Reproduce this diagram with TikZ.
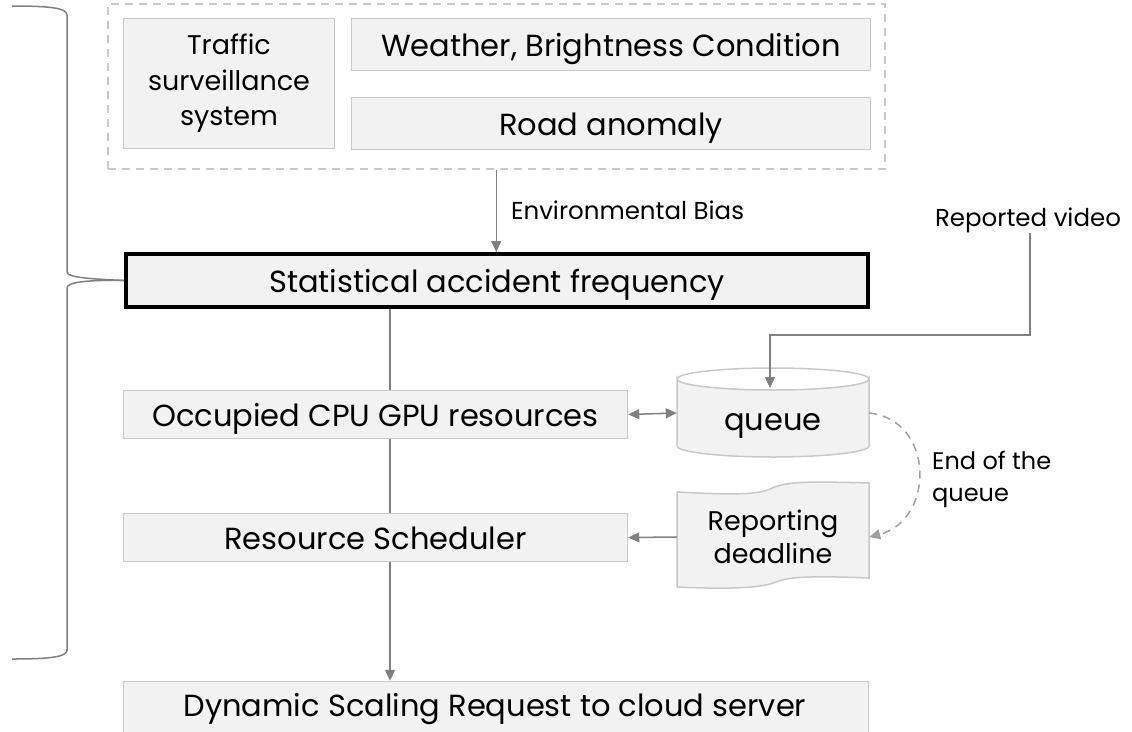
\documentclass[tikz,border=0pt]{standalone}
\usepackage{fontspec}
\setmainfont{Poppins}
\usetikzlibrary{arrows.meta,calc}
\definecolor{boxfill}{HTML}{F2F2F2}
\definecolor{boxline}{HTML}{C8C8C8}
\definecolor{arr}{HTML}{808080}
\definecolor{dashc}{HTML}{A0A0A0}
\newcommand{\bigf}{\fontsize{30.5}{36}\selectfont}
\newcommand{\midf}{\fontsize{27}{35.5}\selectfont}
\newcommand{\tapef}{\fontsize{27}{32.5}\selectfont}
\newcommand{\smf}{\fontsize{24.5}{32}\selectfont}
\begin{document}
\begin{tikzpicture}[x=1pt,y=-1pt,
  box/.style={draw=boxline,fill=boxfill,line width=1.5pt,inner sep=0pt,anchor=north west,font=\bigf},
  one/.style={text height=24pt,text depth=0pt},
  conn/.style={draw=arr,line width=1.5pt},
  tip/.style={-{Triangle[length=11pt,width=10pt]}},
  lbl/.style={inner sep=0pt,font=\smf,align=left}
]
\useasboundingbox (0,0) rectangle (1132,731);
% outer dashed group
\node[draw=boxline,line width=1.5pt,dash pattern=on 8pt off 6pt,inner sep=0pt,anchor=north west,minimum width=777pt,minimum height=165pt] (grp) at (107,3) {};
\node[box,minimum width=211pt,minimum height=130pt,font=\midf,align=center] (traffic) at (122.75,17.75) {Traffic\\surveillance\\system};
\node[box,one,minimum width=519pt,minimum height=52pt] (weather) at (350.75,17.75) {Weather, Brightness Condition};
\node[box,one,minimum width=519pt,minimum height=52pt] (road) at (350.75,96.75) {Road anomaly};
% statistical
\node[box,one,draw=black,line width=4pt,minimum width=742pt,minimum height=53pt] (stat) at (124,252) {Statistical accident frequency};
\node[box,one,minimum width=504pt,minimum height=48pt] (occ) at (122.75,389.75) {Occupied CPU GPU resources};
\node[box,one,minimum width=504pt,minimum height=48pt] (res) at (122.75,512.75) {Resource Scheduler};
\node[box,minimum width=745pt,minimum height=60pt] (dyn) at (122.75,680.75) {};
\node[font=\bigf,one,inner sep=0pt] (dyntxt) at (495,704) {Dynamic Scaling Request to cloud server};
% queue cylinder
\path[draw=boxline,fill=boxfill,line width=1.5pt] (677,379) -- (677,446) arc[start angle=180,end angle=360,x radius=96pt,y radius=11pt] -- (869,379) arc[start angle=0,end angle=-180,x radius=96pt,y radius=11pt] -- cycle;
\draw[boxline,line width=1.5pt] (677,379) arc[start angle=180,end angle=360,x radius=96pt,y radius=-11pt];
\node[inner sep=0pt,minimum width=192pt,minimum height=70pt] (queue) at (773,413) {};
\node[inner sep=0pt,font=\bigf] (qtxt) at (773,426) {queue};
\coordinate (qtop) at (770,388);
% tape: reporting deadline
\path[draw=boxline,fill=boxfill,line width=1.5pt] (677,492) .. controls (720,494) and (755,496) .. (770,489) .. controls (785,482) and (800,481) .. (869,483) -- (869,578) .. controls (820,576) and (790,576) .. (776,582) .. controls (760,589) and (720,589) .. (677,587) -- cycle;
\node[inner sep=0pt,minimum width=192pt,minimum height=95pt,font=\tapef,align=center] (tape) at (773,537) {Reporting\\deadline};
% connectors
\coordinate (cx) at (390,0);
\draw[conn,tip] (grp.south) -- (grp.south |- stat.north) node[midway,right=14pt,lbl] (envlbl) {Environmental Bias};
\draw[conn] (stat.south -| cx) -- (occ.north -| cx);
\draw[conn] (occ.south -| cx) -- (res.north -| cx);
\draw[conn,tip] (res.south -| cx) -- (dyn.north -| cx);
\draw[conn,{Triangle[length=11pt,width=10pt]}-{Triangle[length=11pt,width=10pt]}] (occ.east) -- (queue.west);
\node[lbl] (rv) at (1028,220) {Reported video};
\coordinate (bend) at (770,335);
\draw[conn,tip] (rv.south -| 1030,0) |- (bend) -- (qtop);
\draw[conn,tip] (tape.west) -- (res.east);
\draw[draw=dashc,line width=1.5pt,dash pattern=on 8pt off 6pt,tip] (queue.east) .. controls (935,420) and (935,520) .. (tape.east);
\node[lbl,anchor=west,font=\fontsize{24}{32}\selectfont] (eoq) at (932,479) {End of the\\queue};
% brace
\draw[conn] (12,6) .. controls (50,6) and (67,8) .. (67,15) -- (67,272) .. controls (67,278) and (95,279) .. (stat.west);
\draw[conn] (stat.west) .. controls (95,280) and (67,281) .. (67,288) -- (67,650) .. controls (67,657) and (50,659) .. (12,659);
\end{tikzpicture}
\end{document}
